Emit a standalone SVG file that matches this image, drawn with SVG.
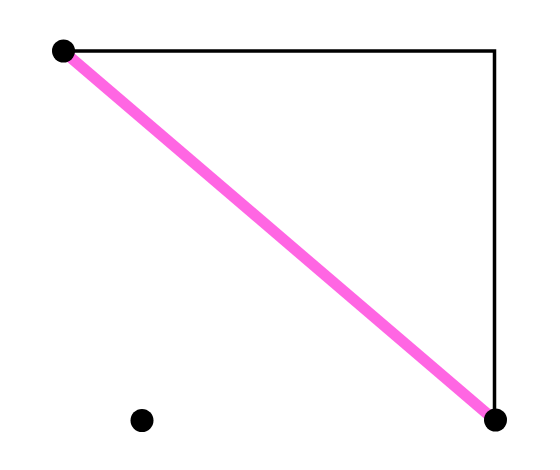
<svg xmlns="http://www.w3.org/2000/svg" width="560" height="470" viewBox="0 0 560 470">
<style>
.edge{fill:none;stroke:#000;stroke-width:3.5}
.hl{fill:none;stroke:#ff66e3;stroke-width:11}
.pt{fill:#000}
</style>
<rect width="560" height="470" fill="#fff"/>
<g id="connectors">
<polyline class="edge" points="63,51 494.5,51 494.5,420"/>
<line class="hl" x1="63" y1="51" x2="494.5" y2="420"/>
</g>
<g id="p1"><circle class="pt" cx="63.5" cy="51" r="11.5"/></g>
<g id="p2"><circle class="pt" cx="495.5" cy="420" r="11.5"/></g>
<g id="p3"><circle class="pt" cx="142" cy="420.5" r="11.5"/></g>
</svg>
